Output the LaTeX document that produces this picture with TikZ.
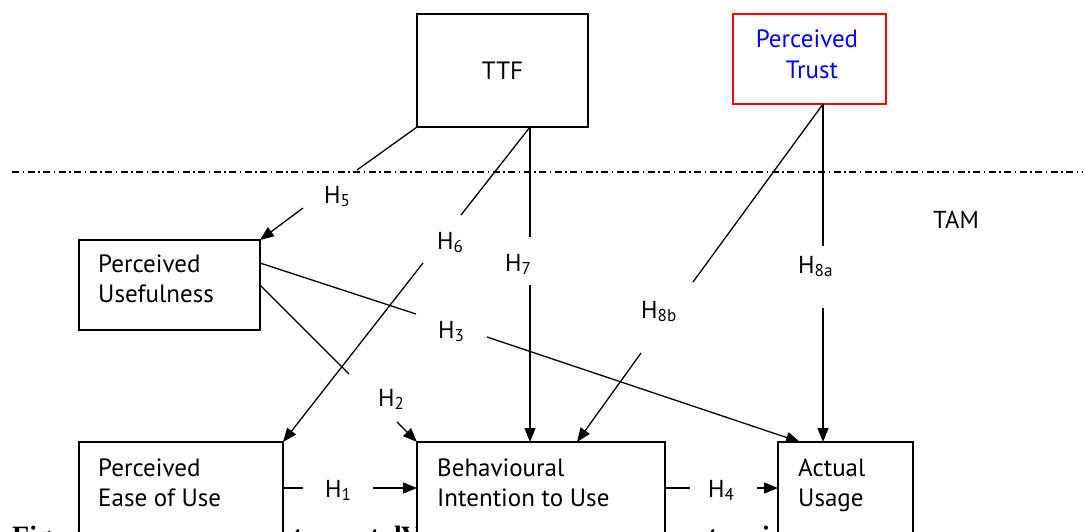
\documentclass[tikz,border=0pt]{standalone}
\usepackage{fontspec}
\setmainfont{PT Sans}
\newfontfamily\capfont{Liberation Serif}
\usetikzlibrary{arrows.meta}
\begin{document}
\begin{tikzpicture}[x=1pt,y=-1pt,
 box/.style={draw, line width=1.3pt, fill=white, inner sep=0pt, outer sep=0pt},
 txt/.style={anchor=base west, inner sep=0pt, font=\fontsize{25}{30}\selectfont},
 hl/.style={anchor=base west, inner sep=0pt, font=\fontsize{24.5}{28}\selectfont},
 capt/.style={anchor=base west, inner sep=0pt, font=\capfont\bfseries\fontsize{28}{32}\selectfont},
 conn/.style={line width=1.3pt},
 arr/.style={conn, -{Triangle[length=14pt,width=11pt]}},
 sepline/.style={line width=1.3pt, dash pattern=on 7pt off 3.5pt on 1.5pt off 3.5pt}
]
\useasboundingbox (0,0) rectangle (1084,531);
\fill[white] (0,0) rectangle (1084,531);

% caption fragments (mostly hidden behind the boxes)
\node[capt] (c1) at (12,545) {Figure};
\node[capt] (c2) at (293,545) {t};
\node[capt] (c3) at (370,545) {t};
\node[capt] (c4) at (386,545) {d};
\node[capt] (c5) at (401,545) {V};
\node[capt] (c6) at (708,545) {t};
\node[capt] (c7) at (762,545) {i};

% boxes
\node[box, minimum width=171pt, minimum height=113pt, font=\fontsize{25}{30}\selectfont] (ttf) at (502.5,70.5) {TTF};
\node[box, draw=red, minimum width=153pt, minimum height=90pt] (trust) at (809.5,59) {};
\node[box, minimum width=181pt, minimum height=90pt] (pu) at (169.5,285) {};
\node[box, minimum width=204pt, minimum height=110pt] (peou) at (181,497) {};
\node[box, minimum width=248pt, minimum height=110pt] (bi) at (541,497) {};
\node[box, minimum width=135pt, minimum height=110pt] (au) at (845.5,497) {};

% box texts
\node[txt, anchor=base, text=blue] (tr1) at (807,47) {Perceived};
\node[txt, anchor=base, text=blue] (tr2) at (812,78) {Trust};
\node[txt] (pu1) at (98,272) {Perceived};
\node[txt] (pu2) at (98,302) {Usefulness};
\node[txt] (pe1) at (98,476) {Perceived};
\node[txt] (pe2) at (98,506) {Ease of Use};
\node[txt] (bi1) at (437,476) {Behavioural};
\node[txt] (bi2) at (437,506) {Intention to Use};
\node[txt] (au1) at (798,476) {Actual};
\node[txt] (au2) at (798,506) {Usage};
\node[hl] (tam) at (933,228) {TAM};

% separator
\coordinate (sl) at (12,172);
\coordinate (sr) at (1082,172);
\draw[sepline] (sl) -- (sr);

% connector points
\coordinate (t6) at (530,127);
\coordinate (t8) at (823,104);
\coordinate (g5a) at (357,170);
\coordinate (g5b) at (303,208);
\coordinate (g6a) at (461,215);
\coordinate (g6b) at (423,263);
\coordinate (g7a) at (530,237);
\coordinate (g7b) at (530,285);
\coordinate (g8a) at (823,246);
\coordinate (g8b) at (823,308);
\coordinate (g9a) at (693,282);
\coordinate (g9b) at (641,353);
\coordinate (pu3) at (260,263);
\coordinate (g3a) at (416,314);
\coordinate (g3b) at (487,337);
\coordinate (au3) at (800,442);
\coordinate (pu2s) at (260,285);
\coordinate (g2a) at (349,374);
\coordinate (g2b) at (397,422);
\coordinate (bi8) at (577,442);
\coordinate (pe1s) at (283,488);
\coordinate (g1a) at (303,488);
\coordinate (g1b) at (373,488);
\coordinate (bi4) at (665,488);
\coordinate (g4a) at (690,488);
\coordinate (g4b) at (757,488);

% H5
\draw[conn] (ttf.south west) -- (g5a);
\draw[arr] (g5b) -- (pu.north east);
% H6
\draw[conn] (t6) -- (g6a);
\draw[arr] (g6b) -- (peou.north east);
% H7
\draw[conn] (t6) -- (g7a);
\draw[arr] (g7b) -- (bi.north -| t6);
% H8a
\draw[conn] (t8) -- (g8a);
\draw[arr] (g8b) -- (au.north -| t8);
% H8b
\draw[conn] (t8) -- (g9a);
\draw[arr] (g9b) -- (bi8);
% H3
\draw[conn] (pu3) -- (g3a);
\draw[arr] (g3b) -- (au3);
% H2
\draw[conn] (pu2s) -- (g2a);
\draw[arr] (g2b) -- (bi.north west);
% H1
\draw[conn] (pe1s) -- (g1a);
\draw[arr] (g1b) -- (bi.west |- g1b);
% H4
\draw[conn] (bi4) -- (g4a);
\draw[arr] (g4b) -- (au.west |- g4b);

% labels
\node[hl] (h5) at (324,203) {H\textsubscript{5}};
\node[hl] (h6) at (437,249) {H\textsubscript{6}};
\node[hl] (h7) at (505,271) {H\textsubscript{7}};
\node[hl] (h8a) at (798,273) {H\textsubscript{8a}};
\node[hl] (h8b) at (641,318) {H\textsubscript{8b}};
\node[hl] (h3) at (438,338) {H\textsubscript{3}};
\node[hl] (h2) at (378,406) {H\textsubscript{2}};
\node[hl] (h1) at (325,497) {H\textsubscript{1}};
\node[hl] (h4) at (708,497) {H\textsubscript{4}};
\end{tikzpicture}
\end{document}
